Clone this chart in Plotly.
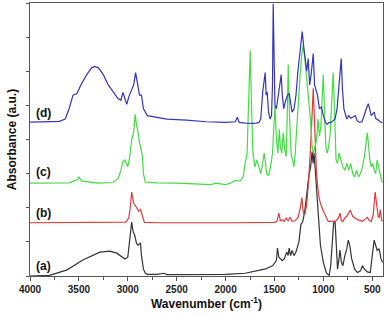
import plotly.graph_objects as go

# ---- data (wavenumber cm-1, absorbance in offset units) ----
wn_a = [4000, 3800, 3620, 3460, 3286, 3184, 3112, 3030, 3000, 2980, 2960, 2945, 2930, 2910, 2895,
        2880, 2870, 2860, 2840, 2820, 2800, 2700, 2630, 2600, 2400, 2000, 1800, 1600, 1520, 1480,
        1469, 1455, 1420, 1400, 1375, 1360, 1350, 1335, 1320, 1300, 1280, 1250, 1230, 1210, 1190,
        1170, 1150, 1130, 1115, 1105, 1095, 1085, 1070, 1050, 1030, 1000, 970, 955, 940, 925,
        910, 895, 880, 870, 855, 840, 830, 815, 800, 780, 760, 745, 730, 710, 680, 650, 620,
        600, 580, 550, 520, 500, 480, 470, 450, 430, 410, 395]
ab_a = [0.0, 0.02, 0.18, 0.47, 0.70, 0.73, 0.67, 0.50, 0.55, 1.00, 1.58, 1.30, 1.20, 0.95, 0.90,
        0.95, 0.97, 0.60, 0.20, 0.08, 0.05, 0.05, 0.08, 0.04, 0.04, 0.05, 0.08, 0.20, 0.30, 0.45,
        0.82, 0.55, 0.45, 0.50, 0.70, 0.60, 0.82, 0.60, 0.75, 0.60, 0.70, 1.00, 1.50, 1.60, 1.90,
        2.50, 2.90, 3.20, 3.65, 3.30, 3.60, 3.20, 2.60, 1.60, 0.90, 0.40, 0.10, 0.05, 0.02, 0.30,
        0.80, 1.55, 1.60, 0.80, 0.20, 0.50, 0.76, 0.40, 0.30, 0.60, 0.80, 1.05, 0.90, 0.50, 0.20,
        0.10, 0.15, 0.30, 0.20, 0.12, 0.10, 0.60, 1.05, 0.95, 0.75, 0.80, 0.50, 0.40]

wn_b = [4000, 3500, 3020, 2990, 2975, 2960, 2950, 2940, 2920, 2900, 2890, 2870, 2850, 2830, 2700,
        2300, 1900, 1500, 1475, 1455, 1440, 1420, 1400, 1380, 1360, 1340, 1320, 1290, 1260, 1235,
        1220, 1205, 1190, 1170, 1150, 1130, 1115, 1103, 1090, 1070, 1050, 1030, 1000, 970, 950,
        900, 870, 845, 830, 815, 800, 780, 760, 740, 725, 700, 670, 650, 600, 575, 550, 530,
        510, 490, 470, 455, 440, 430, 418, 405, 395]
ab_b = [1.56, 1.56, 1.58, 1.70, 2.00, 2.46, 2.20, 2.13, 2.05, 1.95, 1.90, 1.95, 1.75, 1.57, 1.56,
        1.55, 1.56, 1.57, 1.60, 1.84, 1.62, 1.65, 1.60, 1.70, 1.62, 1.72, 1.60, 1.62, 1.70, 2.00,
        2.30, 1.85, 1.80, 2.10, 2.80, 3.80, 4.80, 5.50, 4.50, 3.00, 2.40, 2.13, 1.90, 1.70, 1.60,
        1.60, 1.62, 1.70, 1.84, 1.62, 1.60, 1.70, 1.75, 1.85, 1.93, 1.75, 1.70, 1.65, 1.60, 1.66,
        1.72, 1.62, 1.60, 1.80, 2.46, 2.10, 1.75, 1.70, 1.95, 1.65, 1.60]

wn_c = [4000, 3800, 3600, 3520, 3500, 3470, 3300, 3150, 3100, 3070, 3050, 3030, 3000, 2980, 2960,
        2940, 2925, 2910, 2900, 2880, 2870, 2850, 2840, 2820, 2700, 2500, 2300, 2150, 2100, 2000,
        1950, 1900, 1850, 1820, 1800, 1780, 1760, 1748, 1735, 1720, 1700, 1680, 1660, 1640, 1620,
        1605, 1595, 1580, 1560, 1540, 1520, 1505, 1495, 1480, 1465, 1450, 1440, 1425, 1410, 1395,
        1380, 1370, 1359, 1345, 1330, 1315, 1300, 1290, 1280, 1260, 1240, 1220, 1206, 1190, 1175,
        1160, 1145, 1130, 1115, 1100, 1085, 1070, 1055, 1040, 1025, 1010, 1001, 990, 975, 960,
        945, 930, 915, 899, 885, 870, 855, 840, 820, 800, 780, 760, 740, 720, 700, 680, 660,
        640, 620, 600, 580, 565, 551, 540, 525, 510, 495, 480, 465, 450, 435, 420, 405, 395]
ab_c = [2.72, 2.72, 2.73, 2.82, 2.90, 2.78, 2.72, 2.74, 2.85, 3.10, 3.35, 3.40, 3.20, 3.50, 4.00,
        4.20, 4.74, 4.40, 4.30, 3.90, 3.80, 3.50, 3.00, 2.75, 2.73, 2.72, 2.70, 2.68, 2.72, 2.68,
        2.72, 2.80, 2.78, 2.90, 3.30, 3.60, 5.50, 6.60, 5.00, 3.60, 3.20, 3.40, 3.20, 3.00, 3.30,
        3.60, 3.40, 3.00, 2.95, 3.20, 3.60, 4.60, 5.00, 4.00, 3.60, 4.30, 3.80, 3.60, 4.20, 3.70,
        3.50, 4.60, 6.20, 4.60, 3.60, 3.40, 3.20, 3.50, 4.00, 5.00, 5.80, 6.50, 6.75, 6.40, 6.00,
        5.60, 5.00, 4.50, 3.80, 3.60, 3.80, 3.98, 4.60, 4.10, 4.40, 5.20, 5.90, 5.00, 3.80, 3.60,
        3.80, 4.20, 5.00, 5.96, 4.80, 3.40, 3.30, 3.60, 3.40, 3.20, 3.10, 3.30, 3.10, 3.30, 3.00,
        2.90, 3.10, 2.90, 3.00, 3.20, 3.50, 3.80, 4.20, 3.90, 3.40, 3.20, 3.30, 3.10, 3.00, 3.40,
        3.20, 2.90, 2.80, 2.75]

wn_d = [4000, 3800, 3700, 3640, 3600, 3560, 3520, 3480, 3420, 3370, 3340, 3300, 3250, 3200, 3150,
        3100, 3070, 3050, 3030, 3010, 2990, 2960, 2940, 2920, 2900, 2880, 2860, 2840, 2800, 2750,
        2700, 2600, 2400, 2200, 2000, 1900, 1880, 1860, 1800, 1700, 1660, 1640, 1620, 1595, 1585,
        1575, 1560, 1545, 1530, 1520, 1513, 1505, 1495, 1480, 1465, 1445, 1431, 1420, 1405, 1390,
        1365, 1349, 1335, 1320, 1300, 1280, 1260, 1240, 1216, 1200, 1185, 1170, 1155, 1140, 1125,
        1103, 1090, 1075, 1060, 1040, 1020, 1000, 980, 960, 940, 920, 900, 880, 860, 840, 817,
        805, 790, 775, 760, 740, 720, 700, 673, 655, 630, 605, 580, 560, 540, 525, 510, 495,
        480, 465, 450, 430, 410, 395]
ab_d = [4.51, 4.51, 4.53, 4.60, 4.90, 5.30, 5.35, 5.60, 5.90, 6.10, 6.14, 6.10, 5.90, 5.60, 5.40,
        5.20, 5.15, 5.38, 5.20, 5.03, 5.25, 5.50, 5.60, 5.96, 5.60, 5.30, 5.30, 4.90, 4.70, 4.68,
        4.65, 4.60, 4.57, 4.52, 4.50, 4.52, 4.65, 4.50, 4.48, 4.47, 4.50, 4.60, 5.40, 5.96, 5.30,
        5.40, 4.80, 4.60, 4.70, 5.60, 7.98, 6.00, 5.00, 4.90, 5.20, 5.60, 5.90, 5.30, 4.90, 5.10,
        5.30, 5.35, 5.00, 4.80, 4.90, 5.30, 6.00, 6.60, 7.16, 6.70, 6.30, 6.00, 6.37, 5.60, 5.90,
        6.52, 5.60, 5.40, 5.30, 4.90, 4.95, 4.70, 4.50, 4.45, 4.50, 4.50, 4.55, 4.60, 4.90, 5.60,
        6.37, 5.50, 4.90, 4.75, 4.60, 4.70, 4.62, 4.65, 4.70, 4.55, 4.50, 4.52, 4.70, 4.90, 5.05,
        4.85, 4.70, 4.75, 4.80, 4.62, 4.60, 4.55, 4.50, 4.50]

labels = ["(a)", "(b)", "(c)", "(d)"]
label_y = [0.29, 1.84, 3.04, 4.77]
x_ticks = [4000, 3500, 3000, 2500, 2000, 1500, 1000, 500]

series = [(wn_a, ab_a, "#333333"), (wn_b, ab_b, "#e03a3a"),
          (wn_c, ab_c, "#44dd44"), (wn_d, ab_d, "#3535c0")]

fig = go.Figure()
for (wx, ay, col), name in zip(series, labels):
    fig.add_trace(go.Scatter(x=wx, y=ay, mode="lines", name=name,
                             line=dict(color=col, width=1.2), showlegend=False))

for name, yy in zip(labels, label_y):
    fig.add_annotation(x=3955, y=yy, xref="x", yref="y", text=name, showarrow=False,
                       xanchor="left", yanchor="middle",
                       font=dict(family="Liberation Sans, Arial", size=12, color="#111", weight="bold"))

font = dict(family="Liberation Sans, Arial", color="#222")
fig.update_layout(
    width=388, height=317,
    margin=dict(l=30, r=5, t=3, b=41),
    paper_bgcolor="white", plot_bgcolor="white",
    font=font,
    xaxis=dict(range=[4000, 390], tickvals=x_ticks, ticks="outside", ticklen=4, tickwidth=1,
               tickcolor="#555", showgrid=False, zeroline=False, showline=True, linecolor="#555",
               linewidth=1, mirror=True,
               minor=dict(dtick=250, ticks="outside", ticklen=3, tickcolor="#555", showgrid=False),
               tickfont=dict(family="Liberation Sans, Arial", size=10, color="#222", weight="bold"),
               title=dict(text="Wavenumber (cm<sup>-1</sup>)", standoff=4,
                          font=dict(family="Liberation Sans, Arial", size=12, color="#111", weight="bold"))),
    yaxis=dict(range=[0, 8], dtick=1, ticks="outside", ticklen=3, tickcolor="#555",
               showticklabels=False, showgrid=False, zeroline=False, showline=True,
               linecolor="#555", linewidth=1, mirror=True,
               title=dict(text="Absorbance (a.u.)", standoff=6,
                          font=dict(family="Liberation Sans, Arial", size=12, color="#111", weight="bold"))),
)

fig.write_html("out.html")
